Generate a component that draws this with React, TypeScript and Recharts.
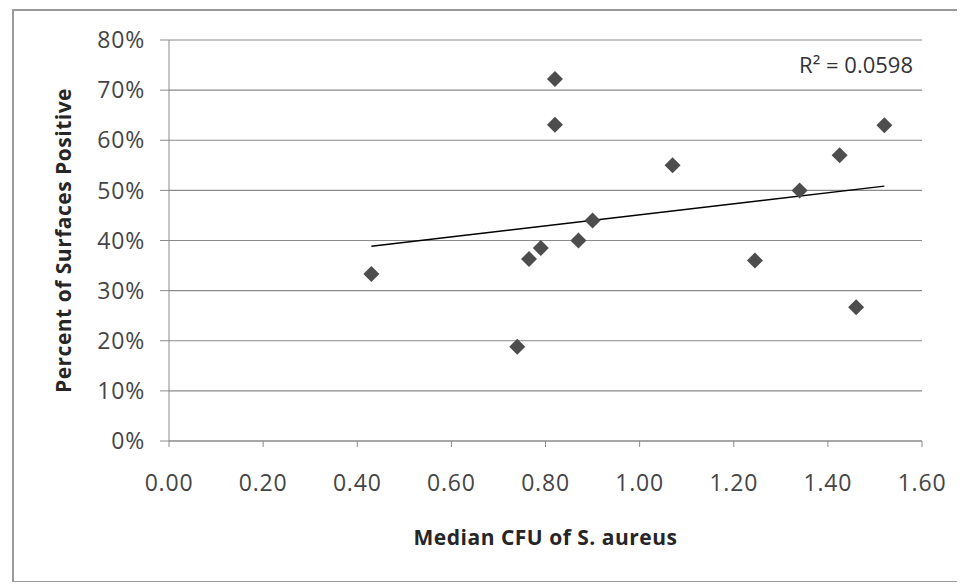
import React from 'react';
import { ScatterChart, Scatter, XAxis, YAxis, CartesianGrid, ReferenceLine, ReferenceDot, Label } from 'recharts';

// Median CFU of S. aureus (x) vs share of surfaces positive (y)
const cfuValues = [0.43, 0.74, 0.765, 0.79, 0.82, 0.82, 0.87, 0.9, 1.07, 1.245, 1.34, 1.425, 1.46, 1.52];
const positiveShares = [0.333, 0.188, 0.363, 0.385, 0.722, 0.631, 0.4, 0.44, 0.55, 0.36, 0.5, 0.57, 0.267, 0.63];

const xTicks = [0, 0.2, 0.4, 0.6, 0.8, 1.0, 1.2, 1.4, 1.6];
const yTicks = [0, 0.1, 0.2, 0.3, 0.4, 0.5, 0.6, 0.7, 0.8];

const xTitle = 'Median CFU of S. aureus';
const yTitle = 'Percent of Surfaces Positive';
const rSquaredText = 'R\u00B2 = 0.0598';

const FONT = '"Open Sans", "Liberation Sans", sans-serif';

const points = cfuValues.map((x, i) => ({ x, y: positiveShares[i] }));

// linear trendline (least squares) over the points, like Excel's
const n = points.length;
const meanX = cfuValues.reduce((a, b) => a + b, 0) / n;
const meanY = positiveShares.reduce((a, b) => a + b, 0) / n;
let sxy = 0;
let sxx = 0;
points.forEach(p => {
  sxy += (p.x - meanX) * (p.y - meanY);
  sxx += (p.x - meanX) * (p.x - meanX);
});
const slope = sxy / sxx;
const intercept = meanY - slope * meanX;
const minX = Math.min(...cfuValues);
const maxX = Math.max(...cfuValues);

const Diamond = (props: any) => {
  const { cx, cy } = props;
  const r = 8;
  return (
    <polygon
      points={`${cx},${cy - r} ${cx + r},${cy} ${cx},${cy + r} ${cx - r},${cy}`}
      fill="#4d4d4d"
    />
  );
};

const YTitle = (props: any) => {
  const { viewBox } = props;
  const x = viewBox.x - 46;
  const y = viewBox.y + viewBox.height / 2;
  return (
    <text
      x={x}
      y={y}
      transform={`rotate(-90, ${x}, ${y})`}
      textAnchor="middle"
      dominantBaseline="central"
      fontFamily={FONT}
      fontWeight="bold"
      fontSize={21}
      letterSpacing={0.5}
      fill="#262626"
    >
      {yTitle}
    </text>
  );
};

const XTitle = (props: any) => {
  const { viewBox } = props;
  const x = viewBox.x + viewBox.width / 2;
  return (
    <text
      x={x}
      y={526}
      textAnchor="middle"
      dominantBaseline="central"
      fontFamily={FONT}
      fontWeight="bold"
      fontSize={21}
      letterSpacing={0.5}
      fill="#262626"
    >
      {xTitle}
    </text>
  );
};

const tickStyle = { fill: '#454545', fontSize: 23, fontFamily: FONT, letterSpacing: 0.8 };

const App: React.FC = () => {
  return (
    <div
      style={{
        position: 'relative',
        top: 1,
        left: 4,
        width: 949,
        height: 570,
        border: '2px solid #9a9a9a',
        background: '#fff',
      }}
    >
      <ScatterChart width={949} height={570} margin={{ top: 29, right: 41, bottom: 110, left: 95 }}>
        <CartesianGrid horizontal vertical={false} stroke="#8a8a8a" strokeWidth={1.2} />
        <XAxis
          type="number"
          dataKey="x"
          domain={[0, 1.6]}
          ticks={xTicks}
          tickFormatter={(v: number) => v.toFixed(2)}
          height={30}
          stroke="#8a8a8a"
          tickSize={6}
          tickMargin={28}
          tick={tickStyle}
          allowDataOverflow
        >
          <Label content={<XTitle />} />
        </XAxis>
        <YAxis
          type="number"
          dataKey="y"
          domain={[0, 0.8]}
          ticks={yTicks}
          tickFormatter={(v: number) => `${Math.round(v * 100)}%`}
          width={60}
          stroke="#8a8a8a"
          tickSize={9}
          tickMargin={15}
          tick={tickStyle}
          allowDataOverflow
        >
          <Label content={<YTitle />} />
        </YAxis>
        <ReferenceLine
          segment={[
            { x: minX, y: intercept + slope * minX },
            { x: maxX, y: intercept + slope * maxX },
          ]}
          stroke="#000"
          strokeWidth={1.4}
        />
        <Scatter data={points} shape={<Diamond />} isAnimationActive={false} />
        <ReferenceDot
          x={1.6}
          y={0.75}
          r={0}
          stroke="none"
          label={{ value: rSquaredText, position: 'left', offset: 9, fill: '#333', fontSize: 22, fontFamily: FONT }}
        />
      </ScatterChart>
    </div>
  );
};

export default App;
